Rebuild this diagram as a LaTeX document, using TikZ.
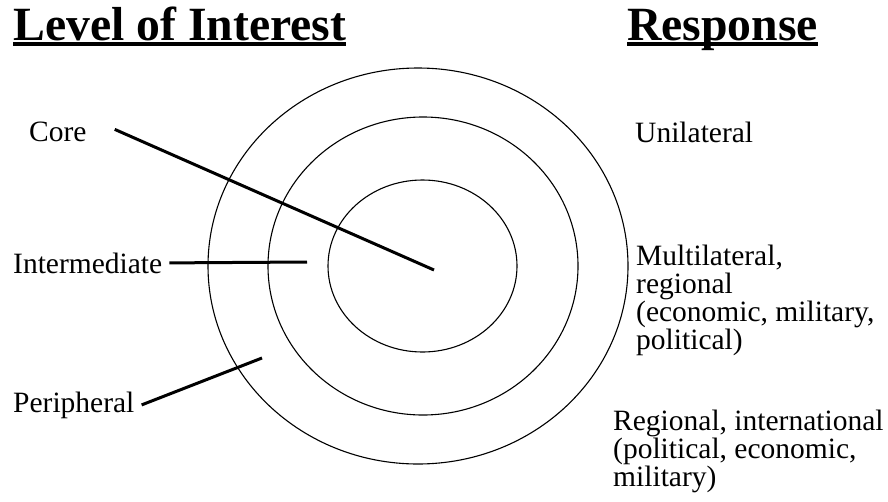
\documentclass[tikz,border=0pt]{standalone}
\usepackage{fontspec}
\setmainfont{Liberation Serif}
\usetikzlibrary{calc}

\begin{document}
\begin{tikzpicture}[
    x=1pt, y=-1pt,
    heading/.style={inner sep=0pt, anchor=base west, font=\fontsize{47.7}{50}\selectfont\bfseries},
    txt/.style={inner sep=0pt, anchor=base west, align=left, font=\fontsize{29.5}{28}\selectfont},
    ring/.style={draw, line width=1.1pt},
    pointer/.style={line width=3pt},
    uline/.style={line width=3.5pt}
]
    \useasboundingbox (0,0) rectangle (888,501);

    % Headings
    \node[heading] (level) at (13,40) {Level of Interest};
    \node[heading] (response) at (627,40) {Response};
    \draw[uline] ([yshift=-4pt]level.base west) -- ([yshift=-4pt]level.base east);
    \draw[uline] ([yshift=-4pt]response.base west) -- ([yshift=-4pt]response.base east);

    % Rings
    \draw[ring] (418,266) ellipse [x radius=210, y radius=198];
    \draw[ring] (423,266) ellipse [x radius=155, y radius=149];
    \draw[ring] (422.5,266) ellipse [x radius=94.5, y radius=86];

    % Levels of interest
    \node[txt] (core) at (29,141) {Core};
    \node[txt] (inter) at (13,273) {Intermediate};
    \node[txt] (peri) at (13,412) {Peripheral};
    \coordinate (coreEnd) at (434,270);
    \coordinate (interEnd) at (307,262);
    \coordinate (periEnd) at (262,358);
    \draw[pointer] ([xshift=28pt,yshift=2pt]core.east) -- (coreEnd);
    \draw[pointer] ([xshift=7pt]inter.east) -- (interEnd);
    \draw[pointer] ([xshift=7pt]peri.east) -- (periEnd);

    % Responses (base is the last line)
    \node[txt] (uni) at (635,142) {Unilateral};
    \node[txt] (multi) at (636,349) {Multilateral,\\regional\\(economic, military,\\political)};
    \node[txt] (intl) at (613,486) {Regional, international\\(political, economic,\\military)};
\end{tikzpicture}
\end{document}
